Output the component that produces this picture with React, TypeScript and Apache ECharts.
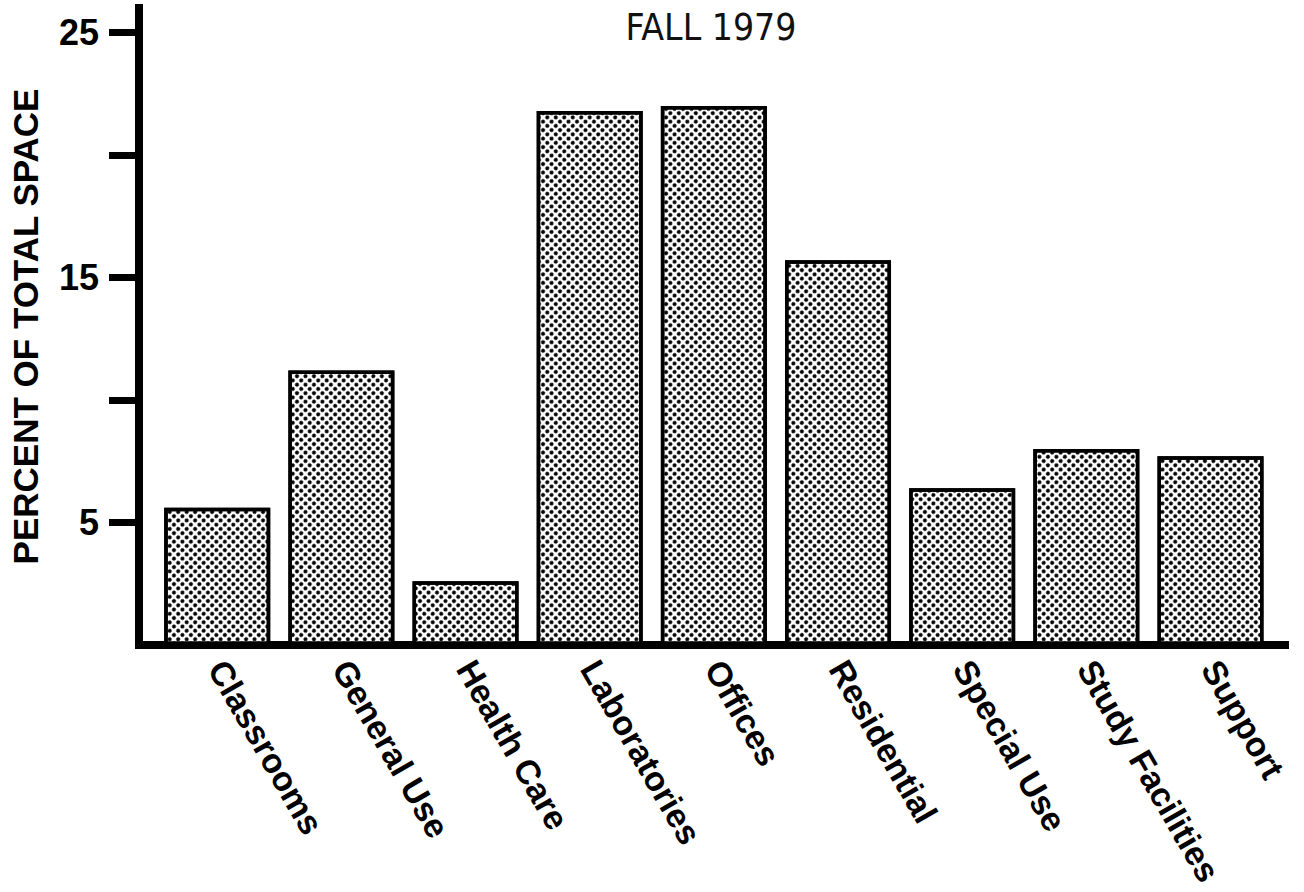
import React, { useEffect, useRef } from "react";
import * as echarts from "echarts";

const titleText = "FALL 1979";
const yAxisTitle = "PERCENT OF TOTAL SPACE";
const categories = [
  "Classrooms",
  "General Use",
  "Health Care",
  "Laboratories",
  "Offices",
  "Residential",
  "Special Use",
  "Study Facilities",
  "Support",
];
const values = [5.6, 11.2, 2.6, 21.8, 22.0, 15.7, 6.4, 8.0, 7.7];
const yTickValues = [5, 10, 15, 20, 25];
const yLabelValues = [5, 15, 25];
const categoryPositions = categories.map((_, i) => i);

export default function App() {
  const ref = useRef<HTMLDivElement>(null);
  useEffect(() => {
    if (!ref.current) return;
    const chart = echarts.init(ref.current, undefined, { renderer: "svg" });
    const sans = "'Liberation Sans', Arial, Helvetica, sans-serif";
    chart.setOption({
      animation: false,
      backgroundColor: "#fff",
      title: {
        text: titleText,
        left: 706,
        top: 4,
        textAlign: "center",
        textStyle: {
          fontFamily: "'Liberation Sans Narrow', 'DejaVu Sans Condensed', sans-serif",
          fontWeight: "normal",
          fontSize: 37,
          color: "#111",
        },
      },
      grid: { left: 133, right: 19, top: 8, bottom: 247, containLabel: false },
      xAxis: {
        type: "value",
        min: -0.63,
        max: 8.6,
        splitLine: { show: false },
        axisTick: { show: false },
        axisLine: { show: true, onZero: true, lineStyle: { color: "#000", width: 8, cap: "square" } },
        axisLabel: {
          customValues: categoryPositions,
          formatter: (v: number) => categories[Math.round(v)] ?? "",
          rotate: -60,
          margin: 18,
          fontFamily: sans,
          fontWeight: "bold",
          fontSize: 34,
          color: "#000",
        },
      },
      yAxis: {
        type: "value",
        min: 0,
        max: 26,
        name: yAxisTitle,
        nameLocation: "middle",
        nameGap: 96,
        nameRotate: 90,
        nameTextStyle: {
          fontFamily: sans,
          fontWeight: "bold",
          fontSize: 35,
          color: "#000",
        },
        splitLine: { show: false },
        axisLine: { show: true, onZero: false, lineStyle: { color: "#000", width: 8, cap: "square" } },
        axisTick: {
          show: true,
          customValues: yTickValues,
          length: 30,
          lineStyle: { color: "#000", width: 7 },
        },
        axisLabel: {
          customValues: yLabelValues,
          margin: 40,
          fontFamily: sans,
          fontWeight: "bold",
          fontSize: 36,
          color: "#000",
        },
      },
      series: [
        {
          type: "bar",
          barWidth: 106,
          data: categories.map((c, i) => ({ name: c, value: [i, values[i]] })),
          itemStyle: {
            color: "#fff",
            borderColor: "#000",
            borderWidth: 3.5,
            decal: {
              symbol: "circle",
              symbolSize: 1,
              color: "#000",
              dashArrayX: [3.4, 1.8],
              dashArrayY: [3.4, 1.8],
              rotation: Math.PI / 4,
            },
          },
        },
      ],
    });
    return () => chart.dispose();
  }, []);
  return (
    <div
      ref={ref}
      style={{ position: "absolute", left: 0, top: 0, width: 1304, height: 892 }}
    />
  );
}
